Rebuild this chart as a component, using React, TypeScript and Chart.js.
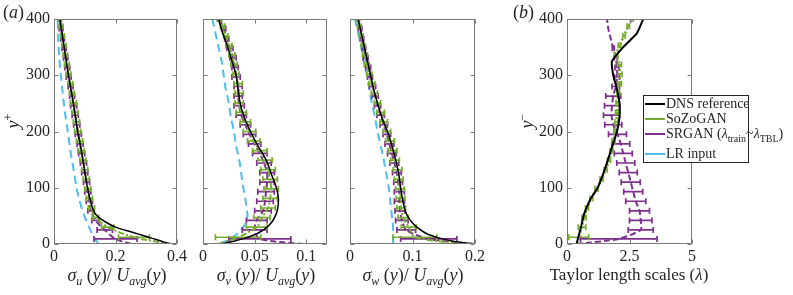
import React, { useEffect, useRef } from "react";
import { Chart, registerables } from "chart.js";
Chart.register(...registerables);

// ---------- data ----------
const yDNS = [0, 5, 10, 15, 20, 30, 40, 50, 60, 80, 100, 125, 150, 175, 200, 225, 250, 275, 300, 325, 350, 375, 400];
const yG = [0, 12, 30, 47, 64, 81, 98, 115, 132, 149, 166, 183, 200, 217, 234, 251, 268, 285, 302, 319, 336, 353, 370, 387, 400];
const yP = [0, 9, 25, 42, 59, 76, 93, 110, 127, 144, 161, 178, 195, 212, 229, 246, 263, 280, 297, 314, 331, 348, 365, 383, 400];

// panel a1: sigma_u / U_avg
const dnsU = [0.38, 0.35, 0.32, 0.29, 0.26, 0.2, 0.165, 0.14, 0.128, 0.117, 0.109, 0.101, 0.094, 0.086, 0.077, 0.070, 0.063, 0.055, 0.047, 0.040, 0.033, 0.026, 0.019];
const lrU = [0.145, 0.138, 0.132, 0.127, 0.122, 0.114, 0.106, 0.099, 0.092, 0.082, 0.073, 0.066, 0.058, 0.051, 0.045, 0.038, 0.032, 0.027, 0.022, 0.018, 0.015, 0.013, 0.012];
const sozoU = [0.38, 0.26, 0.175, 0.135, 0.122, 0.115, 0.11, 0.105, 0.1, 0.094, 0.088, 0.083, 0.077, 0.073, 0.068, 0.063, 0.058, 0.053, 0.047, 0.042, 0.037, 0.032, 0.027, 0.023, 0.019];
const sozoUErr = [0, 0.05, 0.02, 0.01, 0.01, 0.01, 0.01, 0.01, 0.01, 0.01, 0.01, 0.01, 0.01, 0.01, 0.01, 0.01, 0.008, 0.008, 0.008, 0.008, 0.007, 0.007, 0.006, 0.006, 0.005];
const srganU = [0.25, 0.2, 0.165, 0.135, 0.12, 0.115, 0.11, 0.106, 0.1, 0.096, 0.09, 0.085, 0.079, 0.074, 0.069, 0.064, 0.059, 0.054, 0.048, 0.043, 0.038, 0.033, 0.028, 0.023, 0.019];
const srganUErr = [0, 0.07, 0.025, 0.012, 0.01, 0.01, 0.01, 0.01, 0.01, 0.01, 0.01, 0.01, 0.01, 0.01, 0.01, 0.01, 0.008, 0.008, 0.008, 0.008, 0.007, 0.007, 0.006, 0.006, 0.005];

// panel a2: sigma_v / U_avg
const dnsV = [0.017, 0.030, 0.040, 0.048, 0.054, 0.062, 0.067, 0.070, 0.072, 0.073, 0.071, 0.066, 0.061, 0.053, 0.046, 0.040, 0.036, 0.034, 0.032, 0.028, 0.024, 0.019, 0.015];
const lrV = [0.016, 0.022, 0.027, 0.031, 0.034, 0.039, 0.042, 0.043, 0.0425, 0.041, 0.039, 0.037, 0.035, 0.032, 0.030, 0.027, 0.025, 0.022, 0.020, 0.018, 0.015, 0.012, 0.009];
const sozoV = [0.015, 0.034, 0.052, 0.057, 0.063, 0.065, 0.066, 0.065, 0.063, 0.06, 0.055, 0.049, 0.045, 0.041, 0.037, 0.035, 0.035, 0.034, 0.032, 0.03, 0.028, 0.025, 0.022, 0.019, 0.016];
const sozoVErr = [0, 0.022, 0.01, 0.008, 0.007, 0.007, 0.007, 0.007, 0.007, 0.007, 0.007, 0.006, 0.006, 0.005, 0.005, 0.004, 0.004, 0.004, 0.003, 0.003, 0.003, 0.003, 0.002, 0.002, 0.002];
const srganV = [0.097, 0.055, 0.05, 0.052, 0.058, 0.06, 0.061, 0.062, 0.062, 0.059, 0.055, 0.05, 0.045, 0.041, 0.037, 0.035, 0.034, 0.034, 0.032, 0.031, 0.029, 0.026, 0.023, 0.02, 0.016];
const srganVErr = [0, 0.03, 0.012, 0.01, 0.008, 0.008, 0.008, 0.007, 0.007, 0.007, 0.007, 0.006, 0.006, 0.005, 0.005, 0.005, 0.004, 0.004, 0.004, 0.003, 0.003, 0.003, 0.002, 0.002, 0.002];

// panel a3: sigma_w / U_avg
const dnsW = [0.20, 0.165, 0.145, 0.130, 0.120, 0.107, 0.098, 0.092, 0.088, 0.084, 0.081, 0.078, 0.073, 0.067, 0.060, 0.051, 0.044, 0.038, 0.033, 0.028, 0.023, 0.018, 0.013];
const lrW = [0.069, 0.069, 0.069, 0.069, 0.069, 0.069, 0.068, 0.067, 0.066, 0.064, 0.062, 0.058, 0.054, 0.049, 0.044, 0.040, 0.035, 0.031, 0.027, 0.022, 0.018, 0.013, 0.008];
const sozoW = [0.19, 0.104, 0.094, 0.085, 0.082, 0.081, 0.08, 0.078, 0.076, 0.072, 0.068, 0.064, 0.059, 0.054, 0.049, 0.044, 0.039, 0.035, 0.031, 0.027, 0.024, 0.021, 0.018, 0.015, 0.013];
const sozoWErr = [0, 0.035, 0.012, 0.008, 0.007, 0.007, 0.007, 0.007, 0.007, 0.007, 0.007, 0.007, 0.006, 0.006, 0.006, 0.005, 0.005, 0.005, 0.004, 0.004, 0.004, 0.003, 0.003, 0.003, 0.002];
const srganW = [0.2, 0.126, 0.09, 0.083, 0.08, 0.079, 0.079, 0.077, 0.075, 0.071, 0.067, 0.063, 0.059, 0.054, 0.049, 0.044, 0.04, 0.036, 0.032, 0.029, 0.025, 0.022, 0.019, 0.016, 0.013];
const srganWErr = [0, 0.045, 0.015, 0.01, 0.008, 0.008, 0.008, 0.007, 0.007, 0.007, 0.007, 0.007, 0.006, 0.006, 0.006, 0.005, 0.005, 0.005, 0.004, 0.004, 0.004, 0.003, 0.003, 0.003, 0.002];

// panel b: Taylor length scales
const dnsT = [0.39, 0.41, 0.44, 0.47, 0.5, 0.56, 0.61, 0.66, 0.74, 0.94, 1.23, 1.45, 1.64, 1.82, 2.0, 2.1, 2.1, 2.0, 1.85, 1.8, 2.25, 2.8, 3.05];
const sozoT = [0.45, 0.47, 0.6, 0.68, 0.8, 0.97, 1.18, 1.38, 1.55, 1.68, 1.78, 1.86, 1.93, 1.97, 2.0, 2.02, 2.05, 2.1, 2.12, 2.1, 1.98, 2.1, 2.28, 2.45, 2.6];
const sozoTErr = [0, 0.4, 0.15, 0.08, 0.06, 0.06, 0.06, 0.06, 0.06, 0.06, 0.06, 0.06, 0.06, 0.06, 0.06, 0.06, 0.06, 0.08, 0.08, 0.08, 0.06, 0.05, 0.05, 0.05, 0.05];
const srganT = [0.4, 2.07, 2.95, 2.95, 2.9, 2.75, 2.65, 2.55, 2.45, 2.35, 2.25, 2.15, 2.02, 1.85, 1.78, 1.8, 1.85, 1.95, 2.0, 2.0, 1.95, 1.85, 1.75, 1.65, 1.6];
const srganTErr = [0, 1.53, 0.5, 0.45, 0.4, 0.4, 0.38, 0.38, 0.36, 0.36, 0.36, 0.36, 0.36, 0.34, 0.32, 0.3, 0.3, 0.15, 0.1, 0.08, 0.06, 0.04, 0, 0, 0];

const yTicks = [0, 100, 200, 300, 400];
const xTicksU = [0, 0.2, 0.4];
const xTicksV = [0, 0.05, 0.1];
const xTicksW = [0, 0.1, 0.2];
const xTicksT = [0, 2.5, 5];

const legendLabels = ["DNS reference", "SoZoGAN", "SRGAN", "LR input"];

// ---------- styles ----------
const C_DNS = "#000000";
const C_SOZO = "#77AC30";
const C_SRGAN = "#7E2F8E";
const C_LR = "#4DBEEE";
const FONT = '"Liberation Serif", "Times New Roman", serif';
const TXT = "#262626";

const pts = (xs: number[], ys: number[]) => xs.map((x, i) => ({ x, y: ys[i] }));

const errorBarPlugin = {
  id: "errbars",
  afterDatasetDraw(chart: any, args: any) {
    const ds = chart.data.datasets[args.index];
    const err = ds.errX;
    if (!err) return;
    const xs = chart.scales.x;
    const ys = chart.scales.y;
    const ctx = chart.ctx;
    const a = chart.chartArea;
    ctx.save();
    ctx.beginPath();
    ctx.rect(a.left, a.top, a.right - a.left, a.bottom - a.top);
    ctx.clip();
    ctx.strokeStyle = ds.borderColor;
    ctx.lineWidth = 1.7;
    ctx.setLineDash([]);
    ds.data.forEach((p: any, i: number) => {
      const e = err[i];
      if (!e) return;
      const y = ys.getPixelForValue(p.y);
      const x1 = xs.getPixelForValue(p.x - e);
      const x2 = xs.getPixelForValue(p.x + e);
      ctx.beginPath();
      ctx.moveTo(x1, y);
      ctx.lineTo(x2, y);
      ctx.moveTo(x1, y - 3);
      ctx.lineTo(x1, y + 3);
      ctx.moveTo(x2, y - 3);
      ctx.lineTo(x2, y + 3);
      ctx.stroke();
    });
    ctx.restore();
  },
};

const framePlugin = {
  id: "frame",
  afterDraw(chart: any) {
    const { ctx, chartArea: a, scales } = chart;
    ctx.save();
    ctx.strokeStyle = "#7a7a7a";
    ctx.lineWidth = 1;
    ctx.setLineDash([]);
    const L = Math.round(a.left) + 0.5;
    const R = Math.round(a.right) - 0.5;
    const T = Math.round(a.top) + 0.5;
    const B = Math.round(a.bottom) - 0.5;
    ctx.strokeRect(L, T, R - L, B - T);
    ctx.beginPath();
    scales.x.ticks.forEach((t: any) => {
      const px = Math.round(scales.x.getPixelForValue(t.value)) + 0.5;
      ctx.moveTo(px, B);
      ctx.lineTo(px, B - 4);
      ctx.moveTo(px, T);
      ctx.lineTo(px, T + 4);
    });
    scales.y.ticks.forEach((t: any) => {
      const py = Math.round(scales.y.getPixelForValue(t.value)) + 0.5;
      ctx.moveTo(L, py);
      ctx.lineTo(L + 4, py);
      ctx.moveTo(R, py);
      ctx.lineTo(R - 4, py);
    });
    ctx.stroke();
    ctx.restore();
  },
};

type PanelProps = {
  left: number;
  width: number;
  yAxisW: number;
  padRight: number;
  xMax: number;
  xTicks: number[];
  showY: boolean;
  datasets: any[];
};

function Panel(p: PanelProps) {
  const ref = useRef<HTMLCanvasElement>(null);
  useEffect(() => {
    if (!ref.current) return;
    const chart = new Chart(ref.current, {
      type: "scatter",
      data: { datasets: p.datasets },
      options: {
        responsive: false,
        animation: false,
        events: [],
        layout: { padding: { top: 19, right: p.padRight, left: 0, bottom: 0 } },
        plugins: { legend: { display: false }, tooltip: { enabled: false } },
        elements: { point: { radius: 0 } },
        scales: {
          x: {
            type: "linear",
            min: 0,
            max: p.xMax,
            grid: { display: false, drawTicks: false },
            border: { display: false },
            afterBuildTicks: (s: any) => {
              s.ticks = p.xTicks.map((v) => ({ value: v }));
            },
            afterFit: (s: any) => {
              s.height = 51;
            },
            ticks: {
              autoSkip: false,
              maxRotation: 0,
              padding: 3,
              color: TXT,
              font: { family: FONT, size: 16 },
              callback: (v: any) => String(v),
            },
          },
          y: {
            type: "linear",
            min: 0,
            max: 400,
            grid: { display: false, drawTicks: false },
            border: { display: false },
            afterBuildTicks: (s: any) => {
              s.ticks = yTicks.map((v) => ({ value: v }));
            },
            afterFit: (s: any) => {
              s.width = p.yAxisW;
            },
            ticks: {
              display: p.showY,
              padding: 4,
              color: TXT,
              font: { family: FONT, size: 16 },
              callback: (v: any) => String(v),
            },
          },
        },
      },
      plugins: [errorBarPlugin, framePlugin],
    } as any);
    return () => chart.destroy();
  }, []);
  return (
    <canvas
      ref={ref}
      width={p.width}
      height={295}
      style={{ position: "absolute", left: p.left, top: 0, width: p.width, height: 295 }}
    />
  );
}

const lineDS = (label: string, color: string, data: any[], dash: number[], width: number, tension: number, err?: number[]) => ({
  label,
  data,
  showLine: true,
  borderColor: color,
  backgroundColor: color,
  borderWidth: width,
  borderDash: dash,
  pointRadius: 0,
  tension,
  errX: err,
});

const sub = (t: string) => (
  <span style={{ fontSize: 12, position: "relative", top: 4, fontStyle: "italic" }}>{t}</span>
);
const sup = (t: string) => (
  <span style={{ fontSize: 12, position: "relative", top: -7 }}>{t}</span>
);

function XTitle({ cx, comp }: { cx: number; comp: string }) {
  return (
    <div
      style={{
        position: "absolute",
        left: cx - 80,
        width: 160,
        top: 265,
        textAlign: "center",
        fontSize: 18,
        lineHeight: "20px",
        whiteSpace: "nowrap",
      }}
    >
      <i>σ</i>
      {sub(comp)}
      {" "}(<i>y</i>)/ <i>U</i>
      {sub("avg")}(<i>y</i>)
    </div>
  );
}

function YTitle({ cx, cy, s }: { cx: number; cy: number; s: string }) {
  return (
    <div
      style={{
        position: "absolute",
        left: cx - 15,
        top: cy - 10,
        width: 30,
        height: 20,
        lineHeight: "20px",
        textAlign: "center",
        fontSize: 18,
        transform: "rotate(-90deg)",
        whiteSpace: "nowrap",
      }}
    >
      <i>y</i>
      {sup(s)}
    </div>
  );
}

function LegendRow({ top, color, children }: { top: number; color: string; children: any }) {
  return (
    <div style={{ position: "absolute", left: 0, top, height: 16, display: "flex", alignItems: "center", whiteSpace: "nowrap" }}>
      <div style={{ width: 20, height: 2, background: color, marginLeft: 1, marginRight: 1 }} />
      <span style={{ fontSize: 14, lineHeight: "16px" }}>{children}</span>
    </div>
  );
}

export default function App() {
  const dsU = [
    lineDS("DNS reference", C_DNS, pts(dnsU, yDNS), [], 1.5, 0.3),
    lineDS("SoZoGAN", C_SOZO, pts(sozoU, yG), [6, 2, 2, 2], 2, 0.3, sozoUErr),
    lineDS("SRGAN", C_SRGAN, pts(srganU, yP), [6, 3], 2, 0.3, srganUErr),
    lineDS("LR input", C_LR, pts(lrU, yDNS), [8, 5], 2, 0.3),
  ];
  const dsV = [
    lineDS("DNS reference", C_DNS, pts(dnsV, yDNS), [], 1.5, 0.3),
    lineDS("SoZoGAN", C_SOZO, pts(sozoV, yG), [6, 2, 2, 2], 2, 0.3, sozoVErr),
    lineDS("SRGAN", C_SRGAN, pts(srganV, yP), [6, 3], 2, 0.3, srganVErr),
    lineDS("LR input", C_LR, pts(lrV, yDNS), [8, 5], 2, 0.3),
  ];
  const dsW = [
    lineDS("DNS reference", C_DNS, pts(dnsW, yDNS), [], 1.5, 0.3),
    lineDS("SoZoGAN", C_SOZO, pts(sozoW, yG), [6, 2, 2, 2], 2, 0.3, sozoWErr),
    lineDS("SRGAN", C_SRGAN, pts(srganW, yP), [6, 3], 2, 0.3, srganWErr),
    lineDS("LR input", C_LR, pts(lrW, yDNS), [8, 5], 2, 0.3),
  ];
  const dsT = [
    lineDS("DNS reference", C_DNS, pts(dnsT, yDNS), [], 2, 0.15),
    lineDS("SoZoGAN", C_SOZO, pts(sozoT, yG), [2, 2], 2.5, 0.2, sozoTErr),
    lineDS("SRGAN", C_SRGAN, pts(srganT, yP), [6, 3], 2, 0.2, srganTErr),
  ];

  return (
    <div
      style={{
        position: "absolute",
        left: 0,
        top: 0,
        width: 793,
        height: 295,
        background: "#ffffff",
        fontFamily: FONT,
        color: TXT,
        overflow: "hidden",
      }}
    >
      <Panel left={0} width={190} yAxisW={54} padRight={10} xMax={0.4} xTicks={xTicksU} showY={true} datasets={dsU} />
      <Panel left={190} width={150} yAxisW={13} padRight={13} xMax={0.12} xTicks={xTicksV} showY={false} datasets={dsV} />
      <Panel left={340} width={150} yAxisW={10} padRight={15} xMax={0.2} xTicks={xTicksW} showY={false} datasets={dsW} />
      <Panel left={500} width={210} yAxisW={67} padRight={18} xMax={5} xTicks={xTicksT} showY={true} datasets={dsT} />

      <div style={{ position: "absolute", left: 3, top: 2, fontSize: 18 }}>
        (<i>a</i>)
      </div>
      <div style={{ position: "absolute", left: 513, top: 2, fontSize: 18 }}>
        (<i>b</i>)
      </div>

      <YTitle cx={13} cy={121} s="+" />
      <YTitle cx={527} cy={121} s="−" />

      <XTitle cx={117} comp="u" />
      <XTitle cx={266} comp="v" />
      <XTitle cx={413} comp="w" />
      <div
        style={{
          position: "absolute",
          left: 549,
          width: 160,
          top: 265,
          textAlign: "center",
          fontSize: 17,
          lineHeight: "20px",
          whiteSpace: "nowrap",
        }}
      >
        Taylor length scales (<i>λ</i>)
      </div>

      <div
        style={{
          position: "absolute",
          left: 643,
          top: 95,
          width: 104,
          height: 66,
          border: "1px solid #262626",
          background: "#ffffff",
        }}
      >
        <LegendRow top={0} color={C_DNS}>{legendLabels[0]}</LegendRow>
        <LegendRow top={15} color={C_SOZO}>{legendLabels[1]}</LegendRow>
        <LegendRow top={30} color={C_SRGAN}>
          {legendLabels[2]} (<i>λ</i>
          <span style={{ fontSize: 10, position: "relative", top: 4 }}>train</span>~<i>λ</i>
          <span style={{ fontSize: 10, position: "relative", top: 4 }}>TBL</span>)
        </LegendRow>
        <LegendRow top={50} color={C_LR}>{legendLabels[3]}</LegendRow>
      </div>
    </div>
  );
}
